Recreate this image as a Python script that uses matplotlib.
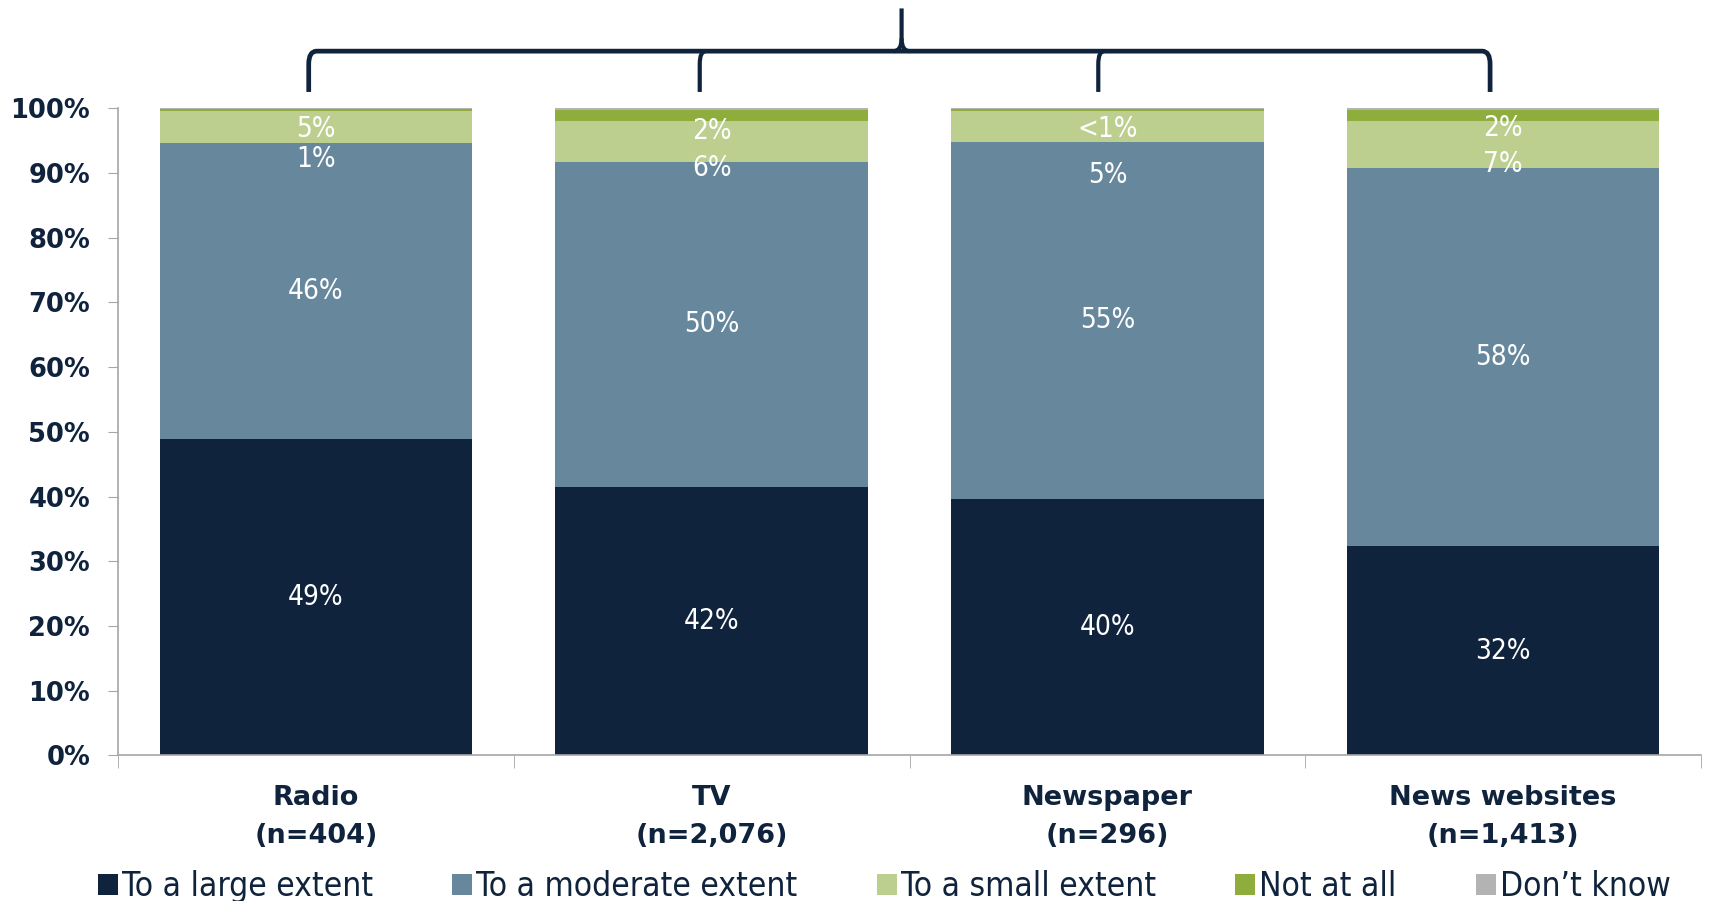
import matplotlib
matplotlib.use("Agg")
import matplotlib.pyplot as plt
from matplotlib.path import Path
from matplotlib.patches import PathPatch
import numpy as np

# data (percent of respondents)
categories = ["Radio\n(n=404)", "TV\n(n=2,076)", "Newspaper\n(n=296)", "News websites\n(n=1,413)"]
series_names = ["To a large extent", "To a moderate extent", "To a small extent", "Not at all", "Don\u2019t know"]
large = [48.9, 41.5, 39.6, 32.4]
moderate = [45.7, 50.2, 55.2, 58.3]
small = [4.9, 6.3, 4.8, 7.3]
not_at_all = [0.3, 1.7, 0.2, 1.7]
dont_know = [0.2, 0.3, 0.2, 0.3]

large_labels = ["49%", "42%", "40%", "32%"]
moderate_labels = ["46%", "50%", "55%", "58%"]
# the two small labels near the top of each bar, as placed in the original
top_labels = ["5%", "2%", "<1%", "2%"]
top_label_y = [96.8, 96.5, 96.8, 97.0]
second_labels = ["1%", "6%", "5%", "7%"]
second_label_y = [92.2, 90.7, 89.7, 91.4]

colors = ["#10233d", "#67889c", "#bccf8e", "#8fad3d", "#b3b3b3"]
NAVY = "#10233d"
AXIS_GREY = "#a6a6a6"
LABEL_FONT = dict(family="DejaVu Sans", stretch="condensed")

fig = plt.figure(figsize=(17.12, 9.01), dpi=100)
ax = fig.add_axes([0.0689, 0.1615, 0.9247, 0.7185])

x = np.arange(len(categories))
width = 0.79
bottom = np.zeros(len(categories))
for name, values, color in zip(series_names, [large, moderate, small, not_at_all, dont_know], colors):
    ax.bar(x, values, width, bottom=bottom, color=color, label=name, zorder=2)
    bottom += np.array(values)

# data labels
for i in x:
    ax.text(i, large[i] / 2, large_labels[i], color="white", fontsize=20,
            ha="center", va="center", **LABEL_FONT)
    ax.text(i, large[i] + moderate[i] / 2, moderate_labels[i], color="white", fontsize=20,
            ha="center", va="center", **LABEL_FONT)
    ax.text(i, top_label_y[i], top_labels[i], color="white", fontsize=20,
            ha="center", va="center", **LABEL_FONT)
    ax.text(i, second_label_y[i], second_labels[i], color="white", fontsize=20,
            ha="center", va="center", **LABEL_FONT)

ax.set_xlim(-0.5, len(categories) - 0.5)
ax.set_ylim(0, 100)
ax.set_yticks(np.arange(0, 101, 10))
ax.set_yticklabels([f"{v}%" for v in range(0, 101, 10)], fontsize=18.5,
                   fontweight="bold", color=NAVY)
ax.tick_params(axis="y", direction="out", length=7, color=AXIS_GREY, pad=13)

ax.set_xticks(x)
ax.set_xticklabels(categories, fontsize=19.5, fontweight="bold", color=NAVY, linespacing=1.6)
ax.tick_params(axis="x", which="major", length=0, pad=21)
ax.set_xticks(np.arange(-0.5, len(categories)), minor=True)
ax.tick_params(axis="x", which="minor", direction="out", length=9, color=AXIS_GREY)

for side in ["top", "right"]:
    ax.spines[side].set_visible(False)
for side in ["left", "bottom"]:
    ax.spines[side].set_color(AXIS_GREY)
    ax.spines[side].set_linewidth(1.2)

# curly bracket above the bars
legs = [-0.018, 0.97, 1.977, 2.967]
y_line, y_leg, y_peak, peak_x = 108.8, 102.5, 115.4, 1.48
r = 0.02
verts = [(legs[0], y_leg), (legs[0], y_line - 2), (legs[0], y_line), (legs[0] + r, y_line),
         (legs[-1] - r, y_line), (legs[-1], y_line), (legs[-1], y_line - 2), (legs[-1], y_leg)]
codes = [Path.MOVETO, Path.LINETO, Path.CURVE3, Path.CURVE3,
         Path.LINETO, Path.CURVE3, Path.CURVE3, Path.LINETO]
ax.add_patch(PathPatch(Path(verts, codes), fill=False, edgecolor=NAVY, lw=3.4,
                       clip_on=False, capstyle="butt", joinstyle="round"))
for lx in legs[1:3]:
    leg = Path([(lx, y_leg), (lx, y_line - 2), (lx, y_line), (lx + 0.015, y_line)],
               [Path.MOVETO, Path.LINETO, Path.CURVE3, Path.CURVE3])
    ax.add_patch(PathPatch(leg, fill=False, edgecolor=NAVY, lw=3.0, clip_on=False))
peak = Path([(peak_x - 0.02, y_line), (peak_x, y_line), (peak_x, y_line + 2), (peak_x, y_peak)],
            [Path.MOVETO, Path.CURVE3, Path.CURVE3, Path.LINETO])
ax.add_patch(PathPatch(peak, fill=False, edgecolor=NAVY, lw=3.0, clip_on=False))
peak_r = Path([(peak_x + 0.02, y_line), (peak_x, y_line), (peak_x, y_line + 2)],
              [Path.MOVETO, Path.CURVE3, Path.CURVE3])
ax.add_patch(PathPatch(peak_r, fill=False, edgecolor=NAVY, lw=3.0, clip_on=False))

leg = fig.legend(loc="upper left", bbox_to_anchor=(0.0572, 0.034), ncol=5, frameon=False,
                 borderaxespad=0, borderpad=0,
                 handlelength=0.6, handleheight=0.6, handletextpad=0.12, columnspacing=2.38,
                 prop=dict(size=24, **LABEL_FONT))
for text in leg.get_texts():
    text.set_color(NAVY)

fig.savefig("out.png", dpi=100)
